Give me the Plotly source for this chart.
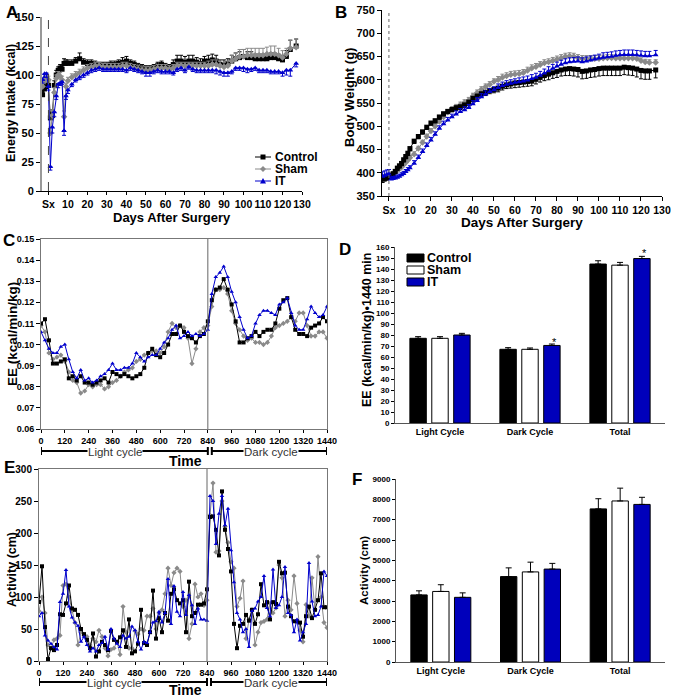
import plotly.graph_objects as go

# ---------- data ----------
days = [-3, -2, -1, 0, 1, 2, 3, 4, 5, 6, 7, 8, 9, 10,
        12, 14, 16, 18, 20, 22, 24, 26, 28, 30,
        32, 34, 36, 38, 40, 42, 44, 46, 48, 50,
        52, 54, 56, 58, 60, 62, 64, 66, 68, 70,
        72, 74, 76, 78, 80, 82, 84, 86, 88, 90,
        92, 94, 96, 98, 100, 102, 104, 106, 108, 110,
        112, 114, 116, 118, 120, 122, 124, 127]

# A: energy intake (kcal)
ei_control = [83, 88, 90, 91, 63, 65, 91, 100, 104, 106, 105, 110, 110, 110,
              110, 112, 114, 111, 110, 110, 109, 108, 108, 108,
              109, 109, 110, 111, 112, 110, 109, 107, 106, 105,
              105, 106, 108, 109, 107, 106, 109, 112, 112, 111,
              112, 112, 111, 110, 112, 112, 113, 112, 109, 109,
              110, 112, 114, 115, 116, 115, 115, 114, 114, 114,
              114, 115, 115, 114, 113, 116, 122, 125]
ei_sham = [90, 95, 98, 96, 50, 65, 85, 97, 100, 99, 96, 64, 90, 95,
           98, 100, 102, 104, 106, 107, 108, 108, 107, 107,
           107, 107, 107, 108, 108, 107, 106, 105, 104, 104,
           104, 105, 106, 106, 106, 105, 106, 108, 108, 108,
           108, 108, 108, 108, 108, 108, 109, 109, 108, 107,
           108, 112, 114, 116, 116, 117, 117, 117, 117, 117,
           118, 118, 118, 117, 115, 118, 123, 124]
ei_it = [96, 101, 101, 90, 21, 55, 68, 82, 92, 93, 94, 52, 82, 87,
         92, 96, 98, 100, 102, 104, 105, 106, 105, 105,
         105, 105, 105, 105, 104, 106, 105, 104, 103, 102,
         102, 103, 104, 103, 103, 103, 102, 105, 106, 104,
         107, 105, 104, 104, 104, 104, 104, 104, 103, 102,
         102, 103, 106, 106, 106, 105, 105, 106, 104, 104,
         104, 103, 103, 103, 102, 104, 104, 110]
ei_control_err = [3, 3, 3, 3, 5, 5, 4, 4, 3, 3, 3, 4, 3, 3,
                  3, 3, 5, 3, 3, 3, 3, 3, 3, 3,
                  3, 3, 3, 4, 4, 3, 3, 3, 3, 3,
                  3, 3, 3, 3, 3, 3, 4, 5, 5, 5,
                  5, 5, 4, 4, 4, 5, 5, 5, 4, 4,
                  4, 5, 5, 5, 6, 5, 5, 4, 4, 4,
                  4, 4, 4, 4, 4, 5, 8, 6]
ei_sham_err = [3, 3, 4, 3, 5, 5, 4, 3, 3, 3, 3, 5, 3, 3,
               3, 3, 3, 3, 3, 3, 3, 3, 3, 3,
               3, 3, 3, 3, 3, 3, 3, 3, 3, 3,
               3, 3, 3, 3, 3, 3, 3, 3, 3, 3,
               3, 3, 3, 3, 3, 4, 4, 4, 4, 4,
               4, 5, 5, 6, 6, 6, 6, 6, 6, 6,
               6, 7, 7, 6, 6, 5, 7, 7]
ei_it_err = [3, 3, 3, 3, 3, 5, 4, 3, 3, 2, 2, 4, 3, 3,
             2, 2, 2, 2, 2, 2, 2, 2, 2, 2,
             2, 2, 2, 2, 2, 2, 2, 2, 2, 3,
             3, 2, 2, 2, 2, 2, 2, 2, 2, 2,
             2, 2, 2, 2, 2, 2, 2, 3, 3, 3,
             3, 2, 2, 2, 3, 3, 2, 2, 2, 2,
             2, 2, 2, 2, 3, 4, 5, 3]

# B: body weight (g)
bw_control = [387, 388, 390, 392, 394, 398, 403, 410, 415, 420, 428, 435, 442, 452,
              468, 478, 488, 498, 507, 512, 520, 527, 532, 536,
              540, 542, 546, 552, 560, 565, 570, 573, 577, 579,
              582, 586, 589, 591, 593, 594, 595, 596, 597, 601,
              605, 609, 612, 615, 618, 621, 623, 624, 623, 622,
              618, 619, 621, 622, 624, 625, 625, 625, 625, 625,
              627, 626, 625, 623, 620, 619, 619, 621]
bw_sham = [390, 391, 392, 394, 395, 396, 400, 405, 408, 412, 417, 422, 427, 432,
           440, 452, 465, 478, 490, 500, 510, 520, 530, 537,
           541, 546, 551, 556, 565, 572, 579, 585, 590, 596,
           600, 605, 608, 611, 612, 613, 615, 620, 625, 628,
           632, 636, 638, 641, 644, 647, 650, 651, 650, 647,
           645, 645, 645, 645, 645, 646, 647, 647, 646, 646,
           646, 646, 646, 645, 641, 638, 637, 637]
bw_it = [392, 394, 396, 397, 386, 387, 388, 390, 392, 395, 398, 402, 406, 410,
         420, 432, 445, 458, 470, 482, 495, 505, 513, 520,
         526, 531, 535, 540, 548, 555, 563, 569, 574, 578,
         583, 587, 590, 592, 594, 595, 597, 599, 602, 605,
         609, 614, 619, 624, 629, 633, 636, 638, 639, 640,
         638, 640, 642, 644, 646, 648, 649, 650, 652, 653,
         654, 654, 654, 653, 652, 651, 651, 653]
bw_control_err = [8, 6, 6, 6, 6, 5, 5, 5, 5, 5, 5, 5, 5, 5,
                  5, 5, 5, 5, 5, 5, 5, 5, 5, 5,
                  6, 6, 6, 7, 7, 7, 7, 7, 7, 7,
                  8, 8, 8, 9, 10, 10, 10, 10, 10, 10,
                  10, 11, 12, 12, 13, 13, 14, 15, 15, 16,
                  16, 16, 16, 16, 16, 16, 16, 16, 16, 16,
                  16, 16, 16, 17, 18, 18, 18, 17]
bw_sham_err = [5, 5, 5, 5, 5, 5, 5, 5, 5, 5, 5, 5, 5, 5,
               5, 5, 5, 5, 5, 5, 5, 5, 5, 5,
               6, 6, 6, 6, 6, 6, 6, 6, 6, 6,
               7, 7, 7, 7, 7, 7, 7, 7, 7, 7,
               7, 7, 7, 7, 7, 7, 7, 7, 7, 7,
               7, 7, 7, 7, 7, 7, 7, 7, 7, 7,
               7, 7, 7, 7, 6, 6, 6, 6]
bw_it_err = [10, 10, 10, 10, 5, 5, 5, 5, 5, 5, 5, 5, 5, 5,
             6, 6, 6, 6, 6, 6, 6, 6, 6, 6,
             7, 7, 7, 7, 7, 7, 7, 7, 7, 7,
             8, 8, 8, 8, 8, 9, 9, 9, 9, 9,
             9, 9, 9, 9, 9, 9, 9, 9, 9, 9,
             9, 9, 9, 9, 9, 10, 10, 10, 10, 10,
             10, 10, 10, 10, 10, 10, 10, 10]

# C: energy expenditure, 20-min bins
ee_time = list(range(0, 1441, 20))
ee_control = [0.110, 0.112, 0.102, 0.091, 0.091, 0.092, 0.093, 0.084, 0.085, 0.083,
              0.085, 0.082, 0.082, 0.081, 0.082, 0.083, 0.084, 0.082, 0.087, 0.086,
              0.085, 0.086, 0.085, 0.084, 0.085, 0.086, 0.089, 0.096, 0.098, 0.095,
              0.094, 0.096, 0.100, 0.105, 0.105, 0.109, 0.106, 0.104, 0.103, 0.101,
              0.104, 0.105, 0.111, 0.121, 0.126, 0.127, 0.131, 0.126, 0.119, 0.111,
              0.101, 0.101, 0.103, 0.104, 0.106, 0.104, 0.106, 0.107, 0.107, 0.110,
              0.117, 0.121, 0.122, 0.113, 0.107, 0.105, 0.105, 0.104, 0.108, 0.109,
              0.110, 0.113, 0.111]
ee_sham = [0.109, 0.106, 0.096, 0.093, 0.094, 0.095, 0.092, 0.087, 0.083, 0.082,
           0.077, 0.078, 0.081, 0.080, 0.081, 0.081, 0.079, 0.080, 0.082, 0.083,
           0.085, 0.087, 0.088, 0.089, 0.092, 0.093, 0.095, 0.096, 0.097, 0.097,
           0.096, 0.099, 0.106, 0.110, 0.108, 0.109, 0.108, 0.103, 0.091, 0.098,
           0.106, 0.108, 0.109, 0.118, 0.126, 0.126, 0.127, 0.124, 0.116, 0.110,
           0.107, 0.104, 0.102, 0.103, 0.101, 0.101, 0.100, 0.101, 0.104, 0.108,
           0.109, 0.110, 0.111, 0.113, 0.111, 0.115, 0.115, 0.109, 0.104, 0.104,
           0.106, 0.106, 0.103]
ee_it = [0.106, 0.102, 0.098, 0.096, 0.096, 0.099, 0.100, 0.093, 0.087, 0.084,
         0.088, 0.083, 0.084, 0.082, 0.083, 0.085, 0.086, 0.088, 0.091, 0.088,
         0.088, 0.089, 0.089, 0.091, 0.096, 0.094, 0.092, 0.094, 0.095, 0.095,
         0.098, 0.101, 0.103, 0.107, 0.109, 0.103, 0.104, 0.106, 0.104, 0.105,
         0.104, 0.105, 0.107, 0.124, 0.132, 0.134, 0.137, 0.132, 0.125, 0.120,
         0.113, 0.107, 0.103, 0.104, 0.110, 0.114, 0.116, 0.116, 0.115, 0.114,
         0.119, 0.120, 0.122, 0.115, 0.109, 0.107, 0.107, 0.112, 0.118, 0.115,
         0.113, 0.114, 0.118]

# E: activity (cm), 15-min bins
act_time = list(range(0, 1441, 15))
act_control = [92, 148, 53, 3, 20, 17, 25, 73,
               72, 90, 118, 82, 80, 72, 50, 42,
               33, 20, 43, 7, 15, 30, 25, 17,
               47, 33, 30, 37, 48, 22, 65, 12,
               15, 27, 80, 28, 25, 45, 110, 35,
               67, 45, 75, 63, 105, 112, 95, 90,
               95, 45, 124, 70, 75, 88, 88, 90,
               112, 225, 226, 205, 165, 265, 205, 175,
               140, 58, 20, 55, 58, 72, 63, 80,
               58, 73, 120, 87, 92, 65, 92, 89,
               155, 137, 138, 85, 70, 62, 62, 60,
               38, 70, 85, 67, 80, 95, 137, 84,
               84]
act_sham = [78, 100, 75, 25, 20, 33, 35, 40,
            118, 120, 100, 78, 60, 25, 45, 40,
            38, 25, 35, 30, 48, 38, 20, 8,
            18, 20, 30, 10, 85, 45, 20, 20,
            47, 42, 50, 48, 70, 70, 82, 50,
            75, 80, 105, 145, 118, 138, 145, 140,
            85, 95, 35, 58, 120, 100, 105, 87,
            95, 228, 278, 170, 172, 250, 210, 185,
            155, 145, 85, 98, 125, 35, 65, 80,
            25, 45, 60, 62, 65, 90, 75, 83,
            150, 130, 70, 95, 80, 133, 90, 48,
            30, 88, 70, 130, 80, 163, 100, 60,
            52]
act_it = [70, 75, 40, 32, 27, 22, 18, 92,
          105, 142, 85, 68, 60, 55, 30, 38,
          25, 15, 20, 15, 25, 28, 38, 18,
          50, 35, 27, 22, 40, 35, 38, 54,
          48, 30, 18, 30, 28, 45, 60, 62,
          77, 60, 75, 128, 58, 117, 77, 70,
          108, 72, 103, 87, 58, 82, 65, 65,
          63, 258, 250, 183, 230, 258, 212, 238,
          173, 123, 75, 65, 45, 50, 22, 78,
          82, 93, 100, 133, 83, 70, 143, 83,
          87, 100, 147, 75, 72, 45, 65, 32,
          45, 58, 153, 93, 70, 72, 85, 140,
          133]

# D / F: bar summaries
cycles = ["Light Cycle", "Dark Cycle", "Total"]
ee_bar_control = [77, 67, 144.5]
ee_bar_sham = [77, 67, 143.5]
ee_bar_it = [80, 70.5, 149.5]
ee_bar_control_err = [1.5, 1.5, 3]
ee_bar_sham_err = [1.5, 1.2, 2.5]
ee_bar_it_err = [1.5, 1.3, 2]
act_bar_control = [3300, 4200, 7530]
act_bar_sham = [3470, 4430, 7920]
act_bar_it = [3180, 4570, 7750]
act_bar_control_err = [200, 430, 500]
act_bar_sham_err = [330, 480, 630]
act_bar_it_err = [220, 280, 350]

groups = ["Control", "Sham", "IT"]
line_col = {"Control": "#000000", "Sham": "#8a8a8a", "IT": "#0000cc"}
bar_col = {"Control": "#000000", "Sham": "#ffffff", "IT": "#0000bb"}
symbols = {"Control": "square", "Sham": "diamond", "IT": "triangle-up"}

W, H = 675, 699
FONT = "Arial, Liberation Sans, sans-serif"


def px(x):
    return x / W


def py(y):
    return 1 - y / H


fig = go.Figure()


def add_series(xs, ys, name, xa, ya, err=None, down=False, msize=5):
    eb = None
    if err is not None:
        eb = dict(type="data", symmetric=False,
                  array=[0] * len(err) if down else err,
                  arrayminus=err if down else [0] * len(err),
                  color=line_col[name], thickness=1, width=2)
    fig.add_trace(go.Scatter(
        x=xs, y=ys, name=name, mode="lines+markers",
        line=dict(color=line_col[name], width=1),
        marker=dict(symbol=symbols[name], size=msize, color=line_col[name]),
        error_y=eb, xaxis=xa, yaxis=ya, showlegend=False))


# A
add_series(days, ei_control, "Control", "x", "y", ei_control_err)
add_series(days, ei_sham, "Sham", "x", "y", ei_sham_err)
add_series(days, ei_it, "IT", "x", "y", ei_it_err, down=True)
# B
add_series(days, bw_sham, "Sham", "x2", "y2", bw_sham_err)
add_series(days, bw_control, "Control", "x2", "y2", bw_control_err, down=True)
add_series(days, bw_it, "IT", "x2", "y2", bw_it_err)
# C
add_series(ee_time, ee_sham, "Sham", "x3", "y3", msize=4)
add_series(ee_time, ee_control, "Control", "x3", "y3", msize=4)
add_series(ee_time, ee_it, "IT", "x3", "y3", msize=4)
# E
add_series(act_time, act_sham, "Sham", "x5", "y5", msize=4)
add_series(act_time, act_control, "Control", "x5", "y5", msize=4)
add_series(act_time, act_it, "IT", "x5", "y5", msize=4)

# D and F bars
ee_vals = {"Control": (ee_bar_control, ee_bar_control_err),
           "Sham": (ee_bar_sham, ee_bar_sham_err),
           "IT": (ee_bar_it, ee_bar_it_err)}
act_vals = {"Control": (act_bar_control, act_bar_control_err),
            "Sham": (act_bar_sham, act_bar_sham_err),
            "IT": (act_bar_it, act_bar_it_err)}
for g in groups:
    for vals, xa, ya in [(ee_vals, "x4", "y4"), (act_vals, "x6", "y6")]:
        v, e = vals[g]
        fig.add_trace(go.Bar(
            x=cycles, y=v, name=g, offsetgroup=g,
            marker=dict(color=bar_col[g], line=dict(color="#000000", width=1)),
            error_y=dict(type="data", symmetric=False, array=e, arrayminus=[0, 0, 0],
                         color="#000000", thickness=1, width=3),
            xaxis=xa, yaxis=ya, showlegend=False))

tick_b = dict(family=FONT, size=11, color="#000", weight="bold")
ax_common = dict(showgrid=False, zeroline=False, ticks="outside", ticklen=4,
                 tickcolor="#000", linecolor="#000", linewidth=1, showline=True,
                 tickangle=0, automargin=False)

day_ticks = [0, 10, 20, 30, 40, 50, 60, 70, 80, 90, 100, 110, 120, 130]
day_text = ["Sx"] + [str(d) for d in day_ticks[1:]]
min_ticks = list(range(0, 1441, 120))

fig.update_layout(
    width=W, height=H, margin=dict(l=0, r=0, t=0, b=0, autoexpand=False),
    paper_bgcolor="white", plot_bgcolor="white",
    font=dict(family=FONT, color="#000"), showlegend=False,
    barmode="group", bargap=0.27, bargroupgap=0.25,
    xaxis=dict(ax_common, domain=[px(42), px(302)], range=[-3.3, 130],
               tickvals=day_ticks, ticktext=day_text, tickfont=dict(tick_b, size=10.5),
               anchor="y", ticklen=3),
    yaxis=dict(ax_common, domain=[py(191), py(17)], range=[0, 150], dtick=25,
               tickfont=tick_b, anchor="x", linecolor="#999", linewidth=2),
    xaxis2=dict(ax_common, domain=[px(382), px(662)], range=[-3.3, 130],
                tickvals=day_ticks, ticktext=day_text, tickfont=dict(tick_b, size=10.5),
                anchor="y2"),
    yaxis2=dict(ax_common, domain=[py(196), py(10)], range=[350, 750], dtick=50,
                tickfont=tick_b, anchor="x2"),
    xaxis3=dict(ax_common, domain=[px(41), px(327)], range=[0, 1440],
                tickvals=min_ticks, tickfont=dict(tick_b, size=9), anchor="y3",
                mirror=True, linecolor="#777", ticklen=3),
    yaxis3=dict(ax_common, domain=[py(429), py(239)], range=[0.06, 0.15], dtick=0.01,
                tickformat=".2f", tickfont=dict(tick_b, size=9), anchor="x3",
                mirror=True, linecolor="#777"),
    xaxis4=dict(ax_common, domain=[px(395), px(665)], tickfont=dict(tick_b, size=9),
                anchor="y4", ticks="", linecolor="#555"),
    yaxis4=dict(ax_common, domain=[py(423), py(247)], range=[0, 160], dtick=10,
                tickfont=dict(tick_b, size=8), anchor="x4", ticklen=3, linecolor="#555"),
    xaxis5=dict(ax_common, domain=[px(39), px(327)], range=[0, 1440],
                tickvals=min_ticks, tickfont=dict(tick_b, size=9), anchor="y5",
                mirror=True, linecolor="#777", ticklen=3),
    yaxis5=dict(ax_common, domain=[py(661), py(469)], range=[0, 300], dtick=50,
                tickfont=dict(tick_b, size=10), anchor="x5", mirror=True, linecolor="#777"),
    xaxis6=dict(ax_common, domain=[px(396), px(665)], tickfont=dict(tick_b, size=9),
                anchor="y6", ticks="", linecolor="#555"),
    yaxis6=dict(ax_common, domain=[py(662), py(479)], range=[0, 9000], dtick=1000,
                tickfont=dict(tick_b, size=8), anchor="x6", ticklen=3, linecolor="#555"),
)

# reference lines
fig.add_shape(type="line", xref="x", yref="y", x0=0, x1=0, y0=0, y1=150,
              line=dict(color="#444", width=1, dash="dash"))
fig.add_shape(type="line", xref="x2", yref="y2", x0=0, x1=0, y0=350, y1=750,
              line=dict(color="#666", width=1, dash="dot"))
fig.add_shape(type="line", xref="x3", yref="y3", x0=840, x1=840, y0=0.06, y1=0.15,
              line=dict(color="#666", width=1))
fig.add_shape(type="line", xref="x5", yref="y5", x0=840, x1=840, y0=0, y1=300,
              line=dict(color="#666", width=1))

# light/dark brackets
for xa, ypx in [("x3", 451), ("x5", 682)]:
    for a, b in [(0, 840), (860, 1440)]:
        fig.add_shape(type="line", xref=xa, yref="paper", x0=a, x1=b,
                      y0=py(ypx), y1=py(ypx), line=dict(color="#000", width=2))
        for xe in (a, b):
            fig.add_shape(type="line", xref=xa, yref="paper", x0=xe, x1=xe,
                          y0=py(ypx - 4), y1=py(ypx + 4), line=dict(color="#000", width=2))
    fig.add_annotation(x=375, y=py(ypx + 1), xref=xa, yref="paper", text="Light cycle",
                       showarrow=False, bgcolor="white", borderpad=0,
                       xanchor="center", yanchor="middle",
                       font=dict(size=11.5, color="#333"))
    fig.add_annotation(x=1160, y=py(ypx + 1), xref=xa, yref="paper", text="Dark cycle",
                       showarrow=False, bgcolor="white", borderpad=0,
                       xanchor="center", yanchor="middle",
                       font=dict(size=11.5, color="#333"))


def text(t, x, y, size, angle=0, weight="bold", anchor="center", color="#000"):
    fig.add_annotation(x=px(x), y=py(y), xref="paper", yref="paper", text=t,
                       showarrow=False, textangle=angle, xanchor=anchor,
                       yanchor="middle", font=dict(size=size, weight=weight, color=color))


# panel letters and axis titles
for t, x, y in [("A", 12, 12), ("B", 341, 12), ("C", 9, 240), ("D", 345, 249),
                ("E", 9, 467), ("F", 357, 479)]:
    text(t, x, y, 17)
text("Energy Intake (kcal)", 11, 103, 12.5, -90)
text("Days After Surgery", 172, 217, 13)
text("Body Weight (g)", 349, 98, 13, -90)
text("Days After Surgery", 522, 223, 13.5)
text("EE (kcal/min/kg)", 12, 334, 13.5, -90)
text("Time", 185, 461, 14)
text("EE (kcal/min/kg)•1440 min", 367, 330, 12.5, -90)
text("Activity (cm)", 12, 570, 12.5, -90)
text("Time", 185, 690, 14)
text("Activity (cm)", 364, 570, 11.5, -90)


# legend for A (line + marker keys)
def marker_shape(name, cx, cy, r=2.5):
    c = line_col[name]
    if name == "Control":
        fig.add_shape(type="rect", xref="paper", yref="paper",
                      x0=px(cx - r), x1=px(cx + r), y0=py(cy + r), y1=py(cy - r),
                      fillcolor=c, line=dict(width=0))
    elif name == "Sham":
        path = (f"M {px(cx)} {py(cy - r - 0.5)} L {px(cx + r + 0.5)} {py(cy)} "
                f"L {px(cx)} {py(cy + r + 0.5)} L {px(cx - r - 0.5)} {py(cy)} Z")
        fig.add_shape(type="path", xref="paper", yref="paper", path=path,
                      fillcolor=c, line=dict(width=0))
    else:
        path = (f"M {px(cx)} {py(cy - r - 0.5)} L {px(cx + r + 0.5)} {py(cy + r)} "
                f"L {px(cx - r - 0.5)} {py(cy + r)} Z")
        fig.add_shape(type="path", xref="paper", yref="paper", path=path,
                      fillcolor=c, line=dict(width=0))


for g, ly in zip(groups, [157, 169, 181]):
    fig.add_shape(type="line", xref="paper", yref="paper", x0=px(255), x1=px(271),
                  y0=py(ly), y1=py(ly), line=dict(color=line_col[g], width=1))
    marker_shape(g, 263, ly)
    text(g, 273, ly, 12, anchor="left")

# legend for D (filled boxes)
for g, ly in zip(groups, [258, 270, 282]):
    fig.add_shape(type="rect", xref="paper", yref="paper", x0=px(407), x1=px(424),
                  y0=py(ly + 4), y1=py(ly - 4), fillcolor=bar_col[g],
                  line=dict(color="#000", width=1))
    text(g, 425, ly, 12.5, anchor="left")

# significance marks on D
for cat, val in [("Dark Cycle", 73.5), ("Total", 154.5)]:
    fig.add_annotation(x=cat, y=val, xref="x4", yref="y4", text="*", showarrow=False,
                       xshift=24, font=dict(size=11))

# the page body has a default 8px margin; drop it so the figure sits at 0,0
fig.write_html("out.html", config={"displayModeBar": False},
               post_script="document.body.style.margin = '0';")
